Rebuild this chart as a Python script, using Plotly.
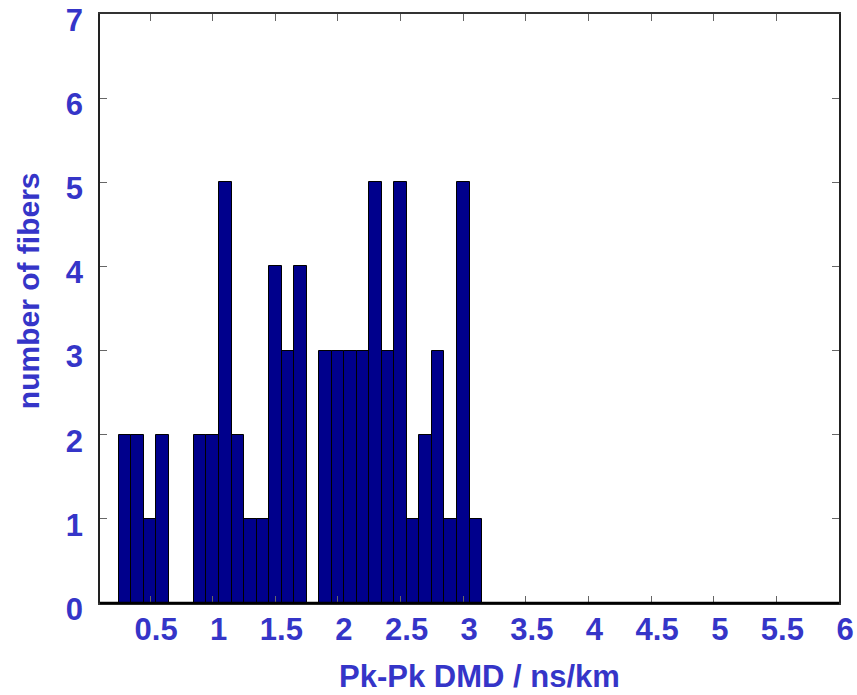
import plotly.graph_objects as go

# bin centres (ns/km) and counts
dmd_bins = [0.3, 0.4, 0.5, 0.6, 0.7, 0.8, 0.9, 1.0, 1.1, 1.2, 1.3, 1.4, 1.5, 1.6, 1.7,
            1.8, 1.9, 2.0, 2.1, 2.2, 2.3, 2.4, 2.5, 2.6, 2.7, 2.8, 2.9, 3.0, 3.1]
fiber_counts = [2, 2, 1, 2, 0, 0, 2, 2, 5, 2, 1, 1, 4, 3, 4,
                0, 3, 3, 3, 3, 5, 3, 5, 1, 2, 3, 1, 5, 1]
bin_width = 0.1

x_ticks = [0.5, 1, 1.5, 2, 2.5, 3, 3.5, 4, 4.5, 5, 5.5, 6]
x_ticklabels = ["0.5", "1", "1.5", "2", "2.5", "3", "3.5", "4", "4.5", "5", "5.5", "6"]
y_ticks = [0, 1, 2, 3, 4, 5, 6, 7]

x_title = "Pk-Pk DMD / ns/km"
y_title = "number of fibers"

TXT = "#3535c8"
FONT = "Liberation Sans, Arial, sans-serif"

fig = go.Figure()
fig.add_trace(go.Bar(
    x=[b for b, c in zip(dmd_bins, fiber_counts) if c > 0],
    y=[c for c in fiber_counts if c > 0],
    width=bin_width,
    marker=dict(color="#00008c", line=dict(color="black", width=1)),
    showlegend=False,
))

fig.update_layout(
    width=857, height=695,
    margin=dict(l=100, r=18, t=14, b=92),
    plot_bgcolor="white", paper_bgcolor="white",
    bargap=0,
    font=dict(family=FONT, size=31, color=TXT, weight="bold"),
    xaxis=dict(
        range=[0.1, 6], tickmode="array", tickvals=x_ticks, ticktext=x_ticklabels,
        ticks="inside", ticklen=7, tickcolor="#666", tickwidth=1,
        showline=True, linecolor="#333", linewidth=1.5, mirror="ticks",
        showgrid=False, zeroline=False, automargin=False,
        ticklabelshift=6, ticklabelstandoff=-2, ticklabeloverflow="allow",
        tickfont=dict(family=FONT, size=31, color=TXT, weight="bold"),
    ),
    yaxis=dict(
        range=[0, 7], tickmode="array", tickvals=y_ticks,
        ticks="inside", ticklen=7, tickcolor="#666", tickwidth=1,
        showline=True, linecolor="#222", linewidth=1.5, mirror="ticks",
        showgrid=False, zeroline=False, automargin=False,
        ticklabelshift=6, ticklabelstandoff=9, ticklabeloverflow="allow",
        tickfont=dict(family=FONT, size=31, color=TXT, weight="bold"),
    ),
)

# thicker bottom axis line
fig.add_shape(type="line", xref="paper", yref="paper", x0=0, x1=1, y0=0, y1=0,
              line=dict(color="black", width=2.5))

fig.add_annotation(text=x_title, xref="paper", yref="paper", x=0.513, y=-0.125,
                   xanchor="center", yanchor="middle", showarrow=False,
                   font=dict(family=FONT, size=31, color=TXT, weight="bold"))
fig.add_annotation(text=y_title, xref="paper", yref="paper", x=-0.0975, y=0.531,
                   xanchor="center", yanchor="middle", showarrow=False, textangle=-90,
                   font=dict(family=FONT, size=30, color=TXT, weight="bold"))

fig.write_html("out.html")
